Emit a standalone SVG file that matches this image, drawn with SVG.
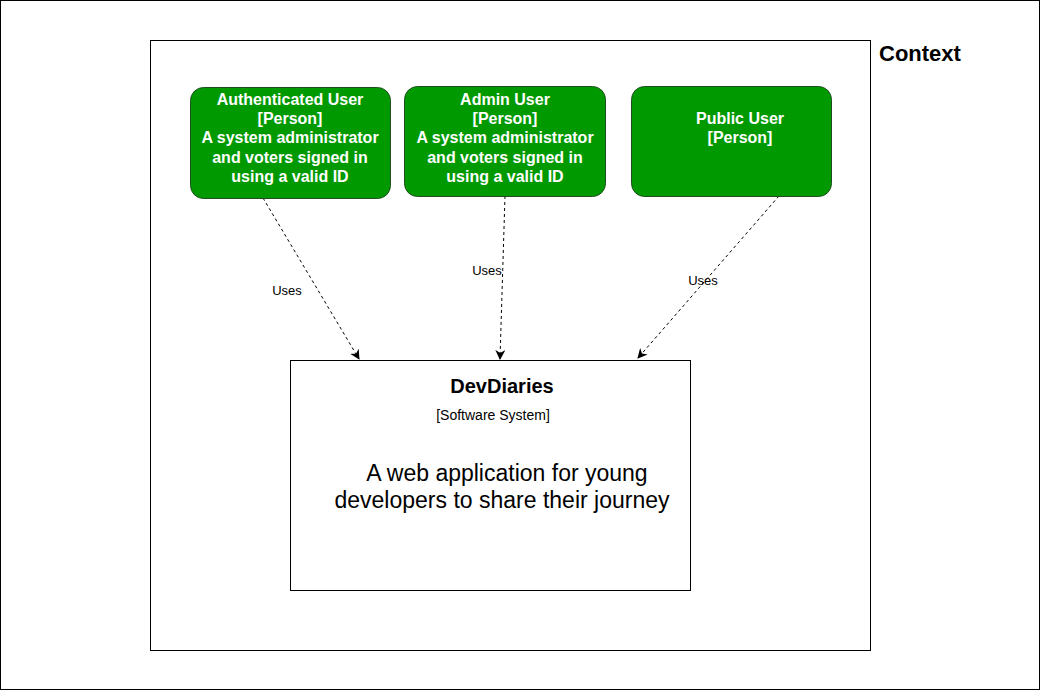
<svg xmlns="http://www.w3.org/2000/svg" width="1041" height="691" viewBox="0 0 1041 691">
<defs>
<style>
text{font-family:"Liberation Sans",Arial,sans-serif;}
.person{fill:#009900;stroke:#1f4d1f;stroke-width:1;}
.ptxt{font-size:16px;font-weight:bold;fill:#ffffff;text-anchor:middle;}
.conn{stroke:#000;stroke-width:1;stroke-dasharray:3 3;fill:none;marker-end:url(#arr);}
.lbl{font-size:13px;fill:#000;text-anchor:middle;}
</style>
<marker id="arr" viewBox="0 0 10 10" refX="9" refY="5" markerWidth="10" markerHeight="10" markerUnits="userSpaceOnUse" orient="auto">
<path d="M0,0 L10,5 L0,10 L3,5 Z" fill="#000"/>
</marker>
</defs>
<rect x="0" y="0" width="1041" height="691" fill="#ffffff"/>
<rect x="0.5" y="0.5" width="1039" height="689" fill="none" stroke="#000"/>
<g id="context">
<rect x="150.5" y="40.5" width="720" height="610" fill="#ffffff" stroke="#000"/>
<text x="879" y="61" font-size="22" font-weight="bold">Context</text>
</g>
<g id="connectors">
<line class="conn" x1="263" y1="198" x2="359" y2="359"/>
<line class="conn" x1="505" y1="196" x2="500" y2="359"/>
<line class="conn" x1="779" y1="196" x2="638" y2="358"/>
<text class="lbl" x="287" y="295">Uses</text>
<text class="lbl" x="487" y="275">Uses</text>
<text class="lbl" x="703" y="285">Uses</text>
</g>
<g id="authenticated-user">
<rect class="person" x="190.5" y="87.5" width="200" height="111" rx="13"/>
<text class="ptxt" x="290" y="105">Authenticated User</text>
<text class="ptxt" x="290" y="124">[Person]</text>
<text class="ptxt" x="290" y="143">A system administrator</text>
<text class="ptxt" x="290" y="163">and voters signed in</text>
<text class="ptxt" x="290" y="182">using a valid ID</text>
</g>
<g id="admin-user">
<rect class="person" x="404.5" y="86.5" width="201" height="110" rx="13"/>
<text class="ptxt" x="505" y="105">Admin User</text>
<text class="ptxt" x="505" y="124">[Person]</text>
<text class="ptxt" x="505" y="143">A system administrator</text>
<text class="ptxt" x="505" y="163">and voters signed in</text>
<text class="ptxt" x="505" y="182">using a valid ID</text>
</g>
<g id="public-user">
<rect class="person" x="631.5" y="86.5" width="200" height="110" rx="13"/>
<text class="ptxt" x="740" y="124">Public User</text>
<text class="ptxt" x="740" y="143">[Person]</text>
</g>
<g id="devdiaries">
<rect x="290.5" y="360.5" width="400" height="230" fill="#ffffff" stroke="#000"/>
<text x="502" y="393" font-size="20" font-weight="bold" text-anchor="middle">DevDiaries</text>
<text x="493" y="420" font-size="14" text-anchor="middle">[Software System]</text>
<text x="507" y="481" font-size="23" text-anchor="middle">A web application for young</text>
<text x="502" y="508" font-size="23" text-anchor="middle">developers to share their journey</text>
</g>
</svg>
